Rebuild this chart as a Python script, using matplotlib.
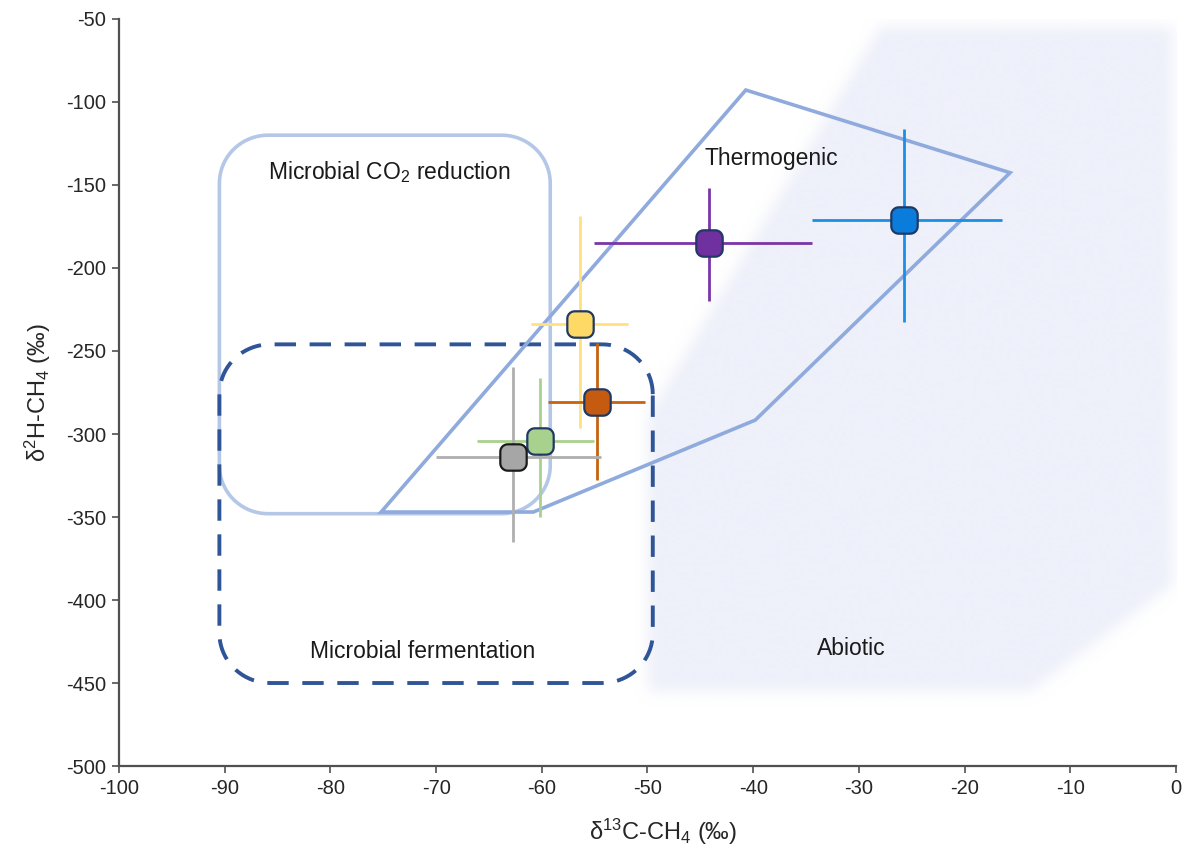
import numpy as np
import matplotlib
matplotlib.use('Agg')
import matplotlib.pyplot as plt
from matplotlib.path import Path
from matplotlib.patches import PathPatch, Polygon

plt.rcParams['font.family'] = ['Liberation Sans', 'DejaVu Sans']
plt.rcParams['mathtext.default'] = 'regular'
plt.rcParams['axes.unicode_minus'] = False

# sample means with the ends of their error bars (per mil)
samples = ['yellow', 'orange', 'green', 'grey', 'purple', 'blue']
d13c = [-56.4, -54.8, -60.2, -62.7, -44.2, -25.7]
d2h = [-234.0, -280.5, -304.0, -313.7, -185.0, -171.0]
d13c_lo = [-61.0, -59.4, -66.1, -70.0, -55.1, -34.4]
d13c_hi = [-51.8, -50.2, -55.1, -54.4, -34.4, -16.5]
d2h_lo = [-296.6, -327.7, -349.8, -365.2, -219.7, -232.3]
d2h_hi = [-168.5, -245.0, -266.5, -259.4, -151.6, -116.3]

face_colors = ['#FFD966', '#C55A11', '#A9D18E', '#A6A6A6', '#7030A0', '#0A7DDC']
bar_colors = ['#FFE17D', '#C8620F', '#A9D18E', '#AFAFAF', '#7A35A8', '#1A8FE3']
edge_colors = ['#1F3864', '#1F3864', '#1F3864', '#1A1A1A', '#1F3864', '#1F3864']

# source fields
thermogenic_x = [-75.2, -40.7, -15.7, -39.8, -60.8]
thermogenic_y = [-347.0, -92.8, -142.6, -291.6, -347.0]
abiotic_x = [-28.0, -0.4, -0.4, -13.8, -50.0, -50.0]
abiotic_y = [-55.0, -55.0, -391.0, -455.0, -455.0, -290.0]
co2_box = (-90.5, -59.2, -348.0, -120.0)       # x0, x1, y0, y1
ferment_box = (-90.5, -49.5, -450.0, -246.0)


def rounded_rect(x0, x1, y0, y1, rx, ry, n=20):
    t = np.linspace(0, np.pi / 2, n)
    pts = []
    for cx, cy, a0 in [(x1 - rx, y1 - ry, 0), (x0 + rx, y1 - ry, np.pi / 2),
                       (x0 + rx, y0 + ry, np.pi), (x1 - rx, y0 + ry, 1.5 * np.pi)]:
        a = a0 + t
        pts += list(zip(cx + rx * np.cos(a), cy + ry * np.sin(a)))
    pts.append(pts[0])
    return Path(pts)


def rounded_marker(r=0.28, n=8):
    t = np.linspace(0, np.pi / 2, n)
    h = 0.5
    pts = []
    for cx, cy, a0 in [(h - r, h - r, 0), (-h + r, h - r, np.pi / 2),
                       (-h + r, -h + r, np.pi), (h - r, -h + r, 1.5 * np.pi)]:
        a = a0 + t
        pts += list(zip(cx + r * np.cos(a), cy + r * np.sin(a)))
    pts.append(pts[0])
    codes = [Path.MOVETO] + [Path.LINETO] * (len(pts) - 2) + [Path.CLOSEPOLY]
    return Path(pts, codes)


fig = plt.figure(figsize=(11.86, 8.47), dpi=100)
ax = fig.add_axes([0.1003, 0.0956, 0.8913, 0.882])
ax.set_xlim(-100, 0)
ax.set_ylim(-500, -50)

# abiotic field as a soft-edged fill
nx, ny = 1057, 747
gx = np.linspace(-100, 0, nx)
gy = np.linspace(-500, -50, ny)
XX, YY = np.meshgrid(gx, gy)
abiotic_path = Path(list(zip(abiotic_x, abiotic_y)))
mask = abiotic_path.contains_points(np.c_[XX.ravel(), YY.ravel()]).reshape(ny, nx).astype(float)
k = 6
for _ in range(3):
    pad = np.pad(mask, ((0, 0), (k, k)), mode='edge')
    c = np.cumsum(pad, axis=1)
    c = np.concatenate([np.zeros((ny, 1)), c], axis=1)
    mask = (c[:, 2 * k + 1:] - c[:, :-2 * k - 1]) / (2 * k + 1)
    pad = np.pad(mask, ((k, k), (0, 0)), mode='edge')
    c = np.cumsum(pad, axis=0)
    c = np.concatenate([np.zeros((1, nx)), c], axis=0)
    mask = (c[2 * k + 1:, :] - c[:-2 * k - 1, :]) / (2 * k + 1)
rgba = np.zeros((ny, nx, 4))
rgba[..., :3] = matplotlib.colors.to_rgb('#EEF0FA')
rgba[..., 3] = mask
ax.imshow(rgba, extent=(-100, 0, -500, -50), origin='lower', aspect='auto',
          zorder=0, interpolation='bilinear')

x0, x1, y0, y1 = co2_box
ax.add_patch(PathPatch(rounded_rect(x0, x1, y0, y1, 4.6, 29), fill=False,
                       ec='#B4C7E7', lw=2.6, zorder=1))
x0, x1, y0, y1 = ferment_box
ax.add_patch(PathPatch(rounded_rect(x0, x1, y0, y1, 4.8, 30), fill=False,
                       ec='#2F5597', lw=2.8, ls=(0, (5.5, 3.5)), zorder=1))
ax.add_patch(Polygon(list(zip(thermogenic_x, thermogenic_y)), closed=True, fill=False,
                     ec='#8FAADC', lw=2.6, zorder=2))

marker = rounded_marker()
for i in range(len(samples)):
    xerr = [[d13c[i] - d13c_lo[i]], [d13c_hi[i] - d13c[i]]]
    yerr = [[d2h[i] - d2h_lo[i]], [d2h_hi[i] - d2h[i]]]
    ax.errorbar([d13c[i]], [d2h[i]], xerr=xerr, yerr=yerr, fmt='none',
                ecolor=bar_colors[i], elinewidth=2.0, capsize=0, zorder=3)
for i in range(len(samples)):
    ax.plot(d13c[i], d2h[i], marker=marker, ms=19, mfc=face_colors[i],
            mec=edge_colors[i], mew=1.6, ls='none', zorder=4 + i * 0.01)

label_kw = dict(ha='center', va='center', fontsize=16.5, color='#1A1A1A')
ax.text(-74.4, -142.2, 'Microbial CO$_2$ reduction', **label_kw)
ax.text(-38.3, -133.9, 'Thermogenic', **label_kw)
ax.text(-71.3, -431.3, 'Microbial fermentation', **label_kw)
ax.text(-30.7, -429.5, 'Abiotic', **label_kw)

for s in ['top', 'right']:
    ax.spines[s].set_visible(False)
for s in ['left', 'bottom']:
    ax.spines[s].set_color('#505050')
    ax.spines[s].set_linewidth(1.6)
ax.set_xticks(np.arange(-100, 1, 10))
ax.set_yticks(np.arange(-500, -49, 50))
ax.tick_params(direction='out', length=5, width=1.2, color='#505050',
               labelsize=14.5, labelcolor='#262626', pad=4)

ax.set_xlabel('δ$^{13}$C-CH$_4$ (‰)', fontsize=17, color='#262626')
ax.set_ylabel('δ$^2$H-CH$_4$ (‰)', fontsize=17, color='#262626')
ax.xaxis.set_label_coords(0.515, -0.068)
ax.yaxis.set_label_coords(-0.062, 0.5)

fig.savefig('out.png', dpi=100)
